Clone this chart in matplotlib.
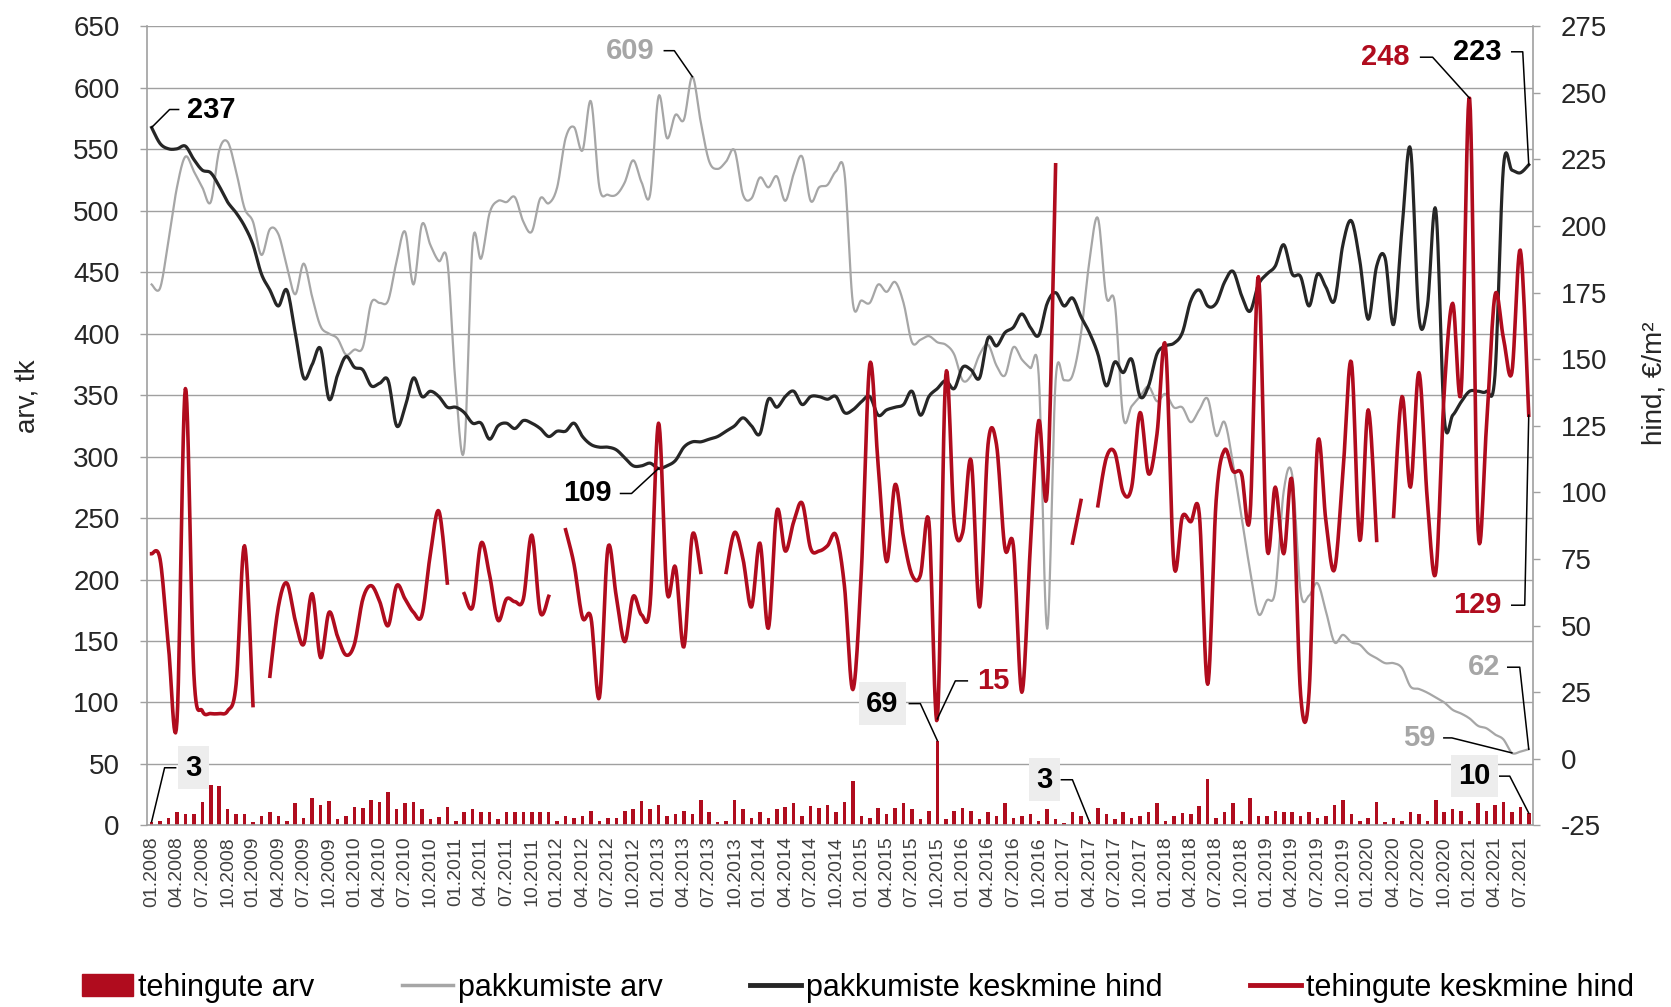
import numpy as np
import matplotlib
matplotlib.use("Agg")
import matplotlib.pyplot as plt
from matplotlib.lines import Line2D
from matplotlib.patches import Patch

plt.rcParams['font.family'] = ['Liberation Sans', 'DejaVu Sans']
plt.rcParams['axes.unicode_minus'] = False

# kuud 01.2008 ... 08.2021
months = [f"{m:02d}.{y}" for y in range(2008, 2022) for m in range(1, 13)][:164]

# tehingute arv (tulbad, vasak telg)
tehingute_arv = [
    3, 4, 6, 11, 9, 9, 19, 33, 32, 13, 9, 9,
    3, 8, 11, 8, 4, 18, 6, 22, 17, 20, 5, 8,
    15, 14, 21, 19, 27, 13, 18, 19, 13, 5, 7, 15,
    4, 11, 13, 11, 11, 5, 11, 11, 11, 11, 11, 11,
    4, 8, 6, 8, 12, 4, 6, 6, 12, 13, 20, 13,
    17, 8, 9, 12, 9, 21, 11, 3, 4, 21, 13, 6,
    11, 6, 13, 15, 18, 8, 16, 14, 17, 11, 19, 36,
    8, 6, 14, 9, 14, 18, 13, 5, 12, 69, 5, 12,
    14, 12, 5, 11, 8, 18, 6, 8, 9, 4, 13, 5,
    2, 11, 8, 3, 14, 9, 5, 11, 6, 8, 11, 18,
    4, 8, 10, 9, 16, 38, 6, 11, 18, 4, 22, 8,
    8, 12, 11, 11, 8, 11, 6, 8, 17, 21, 9, 4,
    6, 19, 3, 6, 4, 11, 9, 4, 21, 11, 13, 12,
    4, 18, 12, 17, 19, 11, 15, 10,
]

# pakkumiste arv (hall joon, vasak telg)
pakkumiste_arv = [
    440, 437, 476, 519, 544, 532, 519, 507, 549, 556, 532, 502,
    491, 464, 485, 481, 455, 432, 457, 430, 406, 400, 396, 383,
    387, 389, 425, 425, 427, 459, 483, 440, 489, 472, 459, 459,
    357, 306, 474, 461, 498, 508, 507, 511, 491, 483, 510, 506,
    519, 559, 568, 549, 589, 519, 513, 513, 523, 541, 523, 513,
    593, 559, 578, 574, 609, 572, 540, 534, 540, 549, 513, 510,
    527, 519, 528, 508, 530, 544, 508, 519, 521, 532, 531, 425,
    427, 425, 440, 434, 442, 425, 393, 395, 398, 393, 391, 383,
    362, 366, 383, 391, 374, 366, 389, 379, 372, 366, 160, 362,
    362, 366, 400, 459, 494, 430, 425, 332, 341, 349, 357, 345,
    351, 340, 340, 328, 338, 347, 317, 328, 294, 251, 208, 172,
    183, 191, 272, 285, 190, 187, 197, 174, 149, 155, 149, 147,
    140, 136, 132, 132, 128, 113, 111, 108, 104, 100, 94, 91,
    87, 81, 79, 74, 70, 59, 60, 62,
]

# pakkumiste keskmine hind (must joon, parem telg)
pakkumiste_hind = [
    237, 231, 229, 229, 230, 225, 221, 220, 215, 209, 205, 200,
    193, 182, 176, 170, 176, 160, 143, 148, 154, 135, 144, 151,
    147, 146, 140, 141, 142, 125, 132, 143, 136, 138, 136, 132,
    132, 130, 126, 126, 120, 125, 126, 124, 127, 126, 124, 121,
    123, 123, 126, 121, 118, 117, 117, 116, 113, 110, 110, 111,
    109, 110, 112, 117, 119, 119, 120, 121, 123, 125, 128, 125,
    122, 135, 132, 136, 138, 133, 136, 136, 135, 136, 130, 131,
    134, 136, 129, 131, 132, 133, 138, 129, 136, 139, 142, 139,
    147, 146, 143, 158, 155, 160, 162, 167, 162, 159, 171, 175,
    170, 173, 166, 160, 152, 140, 149, 145, 150, 136, 140, 152,
    155, 156, 160, 172, 176, 170, 171, 179, 183, 174, 168, 178,
    182, 185, 193, 182, 181, 170, 182, 177, 172, 193, 202, 187,
    165, 185, 188, 163, 199, 229, 166, 170, 206, 128, 129, 134,
    138, 138, 138, 144, 222, 221, 220, 223,
]

nan = np.nan
# tehingute keskmine hind (punane joon, parem telg), tühikud = nan
tehingute_hind = [
    77, 75, 42, 14, 139, 32, 18, 17, 17, 18, 28, 80,
    20, nan, 31, 57, 66, 52, 43, 62, 38, 55, 46, 39,
    43, 60, 65, 59, 50, 65, 60, 55, 54, 77, 93, 66,
    nan, 62, 57, 81, 69, 52, 60, 59, 60, 84, 55, 61,
    nan, 86, 73, 53, 53, 23, 79, 61, 44, 61, 54, 58,
    126, 63, 72, 42, 84, 70, nan, nan, 70, 85, 75, 57,
    81, 49, 93, 78, 89, 96, 79, 78, 80, 84, 65, 26,
    70, 148, 110, 74, 103, 83, 69, 69, 89, 15, 144, 89,
    85, 112, 57, 118, 118, 79, 80, 25, 79, 127, 100, 223,
    nan, 81, 97, nan, 95, 113, 115, 100, 102, 130, 107, 122,
    155, 73, 91, 89, 92, 28, 97, 116, 108, 107, 91, 181,
    80, 102, 77, 104, 24, 25, 118, 89, 71, 107, 149, 82,
    131, 82, nan, 91, 136, 102, 145, 97, 70, 138, 171, 138,
    248, 86, 125, 174, 158, 145, 191, 129,
]

RED = '#b00c1e'
GREY = '#a6a6a6'
BLACK = '#262626'
AXC = '#a0a0a0'


def smooth(x, y, steps=12):
    # Catmull-Rom kõver, nagu Exceli "smoothed line"
    x = np.asarray(x, float)
    y = np.asarray(y, float)
    if len(x) < 3:
        return x, y
    xp = np.concatenate([[x[0]], x, [x[-1]]])
    yp = np.concatenate([[y[0]], y, [y[-1]]])
    t = np.linspace(0, 1, steps, endpoint=False)
    xs, ys = [], []
    for k in range(len(x) - 1):
        for arr, out in ((xp, xs), (yp, ys)):
            p0, p1, p2, p3 = arr[k], arr[k + 1], arr[k + 2], arr[k + 3]
            out.append(0.5 * (2 * p1 + (-p0 + p2) * t
                              + (2 * p0 - 5 * p1 + 4 * p2 - p3) * t ** 2
                              + (-p0 + 3 * p1 - 3 * p2 + p3) * t ** 3))
    xs.append([x[-1]])
    ys.append([y[-1]])
    return np.concatenate(xs), np.concatenate(ys)


W, H = 1671, 1007
fig = plt.figure(figsize=(W / 100, H / 100), dpi=100)
ax = fig.add_axes([0.0882, 0.1803, 0.8292, 0.7936])
ax2 = ax.twinx()

x = np.arange(len(months))
ax.bar(x, tehingute_arv, width=0.42, color=RED, zorder=2)
ax.plot(*smooth(x, pakkumiste_arv), color=GREY, lw=1.6, zorder=3)
ax2.plot(*smooth(x, pakkumiste_hind), color=BLACK, lw=2.3, zorder=3)

th = np.array(tehingute_hind, float)
idx = np.where(~np.isnan(th))[0]
for seg in np.split(idx, np.where(np.diff(idx) > 1)[0] + 1):
    ax2.plot(*smooth(x[seg], th[seg]), color=RED, lw=2.6, zorder=4)

ax.set_xlim(-0.5, len(months) - 0.5)
ax.set_ylim(0, 650)
ax2.set_ylim(-25, 275)
ax.set_yticks(range(0, 651, 50))
ax2.set_yticks(range(-25, 276, 25))
ax.set_xticks(x[::3])
ax.set_xticklabels(months[::3], rotation=90, fontsize=14, color='#404040')
ax.tick_params(axis='x', length=0, pad=8)
for a in (ax, ax2):
    a.tick_params(axis='y', length=5, width=1, color=AXC, labelsize=20,
                  pad=15, labelcolor=BLACK)
    for s in a.spines.values():
        s.set_visible(False)
ax.spines['left'].set_visible(True)
ax.spines['bottom'].set_visible(True)
ax2.spines['right'].set_visible(True)
for s in (ax.spines['left'], ax.spines['bottom'], ax2.spines['right']):
    s.set_color(AXC)
    s.set_linewidth(1.2)

ax.yaxis.grid(True, color=AXC, lw=1.0)
ax.set_axisbelow(True)

ax.set_ylabel('arv, tk', fontsize=20, color=BLACK)
ax.yaxis.set_label_coords(-0.0774, 0.537)
ax2.set_ylabel('hind, €/m²', fontsize=20, color=BLACK)
ax2.yaxis.set_label_coords(1.078, 0.553)


def label(axis, i, v, text, color, elbow, end_dx, text_dx, boxed=False):
    px, py = axis.transData.transform((i, v))
    ex, ey = px + elbow[0], py + elbow[1]
    lx = px + end_dx
    fig.add_artist(Line2D([px / W, ex / W, lx / W], [py / H, ey / H, ey / H],
                          transform=fig.transFigure, color='black', lw=1.1))
    ha = 'left' if text_dx > 0 else 'right'
    bbox = dict(boxstyle='square,pad=0.25', fc='#ededed', ec='none') if boxed else None
    fig.text((px + text_dx) / W, ey / H, text, ha=ha, va='center', color=color,
             fontsize=21, fontweight='bold', bbox=bbox)


n = len(months) - 1
label(ax2, 0, pakkumiste_hind[0], '237', 'black', (18, 18), 27, 35)
label(ax, 64, pakkumiste_arv[64], '609', GREY, (-18, 26), -28, -38)
label(ax2, 60, pakkumiste_hind[60], '109', 'black', (-27, -25), -38, -47)
label(ax, 93, tehingute_arv[93], '69', 'black', (-17, 37), -28, -39, boxed=True)
label(ax2, 93, tehingute_hind[93], '15', RED, (18, 38), 30, 40)
label(ax, 0, tehingute_arv[0], '3', 'black', (13, 54), 24, 34, boxed=True)
label(ax, 111, tehingute_arv[111], '3', 'black', (-17, 42), -28, -37, boxed=True)
label(ax, n, tehingute_arv[n], '10', 'black', (-19, 37), -29, -38, boxed=True)
label(ax, 161, pakkumiste_arv[161], '59', GREY, (-60, 15), -68, -76)
label(ax, n, pakkumiste_arv[n], '62', GREY, (-9, 82), -21, -29)
label(ax2, n, tehingute_hind[n], '129', RED, (-4, -190), -17, -27)
label(ax2, n, pakkumiste_hind[n], '223', 'black', (-6, 113), -17, -27)
label(ax2, 156, tehingute_hind[156], '248', RED, (-37, 41), -49, -60)

handles = [Patch(color=RED), Line2D([], [], color=GREY, lw=2.5),
           Line2D([], [], color=BLACK, lw=3.5), Line2D([], [], color=RED, lw=3.5)]
labels = ['tehingute arv', 'pakkumiste arv', 'pakkumiste keskmine hind',
          'tehingute keskmine hind']
fig.legend(handles, labels, loc='center', bbox_to_anchor=(0.5135, 0.019), ncol=4,
           frameon=False, fontsize=22, handlelength=1.67, handletextpad=0.17,
           columnspacing=2.85)

fig.savefig('out.png', dpi=100)
